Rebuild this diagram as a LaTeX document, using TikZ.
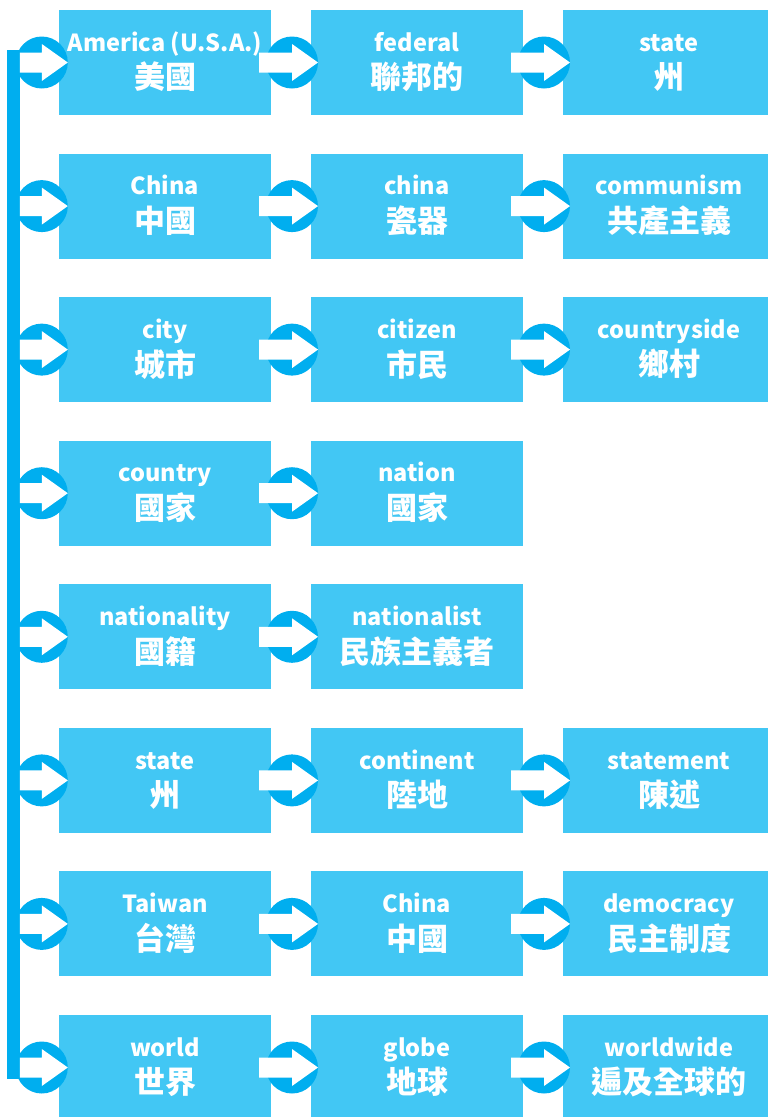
\documentclass[tikz,border=0pt]{standalone}
\usepackage{fontspec}
\setmainfont{Noto Sans CJK TC}
\usetikzlibrary{calc}
\definecolor{boxblue}{RGB}{66,199,244}
\definecolor{hopblue}{RGB}{0,174,239}
\newcommand{\lstrut}{\rule[-10pt]{0pt}{35pt}}
\newcommand{\en}{\fontsize{23.5}{30}\selectfont\lstrut}
\newcommand{\zh}{\fontsize{31}{30}\selectfont\lstrut}
\begin{document}
\begin{tikzpicture}[x=1pt,y=-1pt,
  word/.style={fill=boxblue, text=white, font=\bfseries, align=center, inner sep=0pt, minimum width=212pt, minimum height=105pt},
  pics/hop/.style={code={
    \fill[hopblue] (0,0) circle [radius=26pt];
    \fill[white] (-#1,-10) -- (0,-10) -- (0,-18.5) -- (26,0) -- (0,18.5) -- (0,10) -- (-#1,10) -- cycle;
  }}]
		    \useasboundingbox (0,0) rectangle (768,1117);
		    
		    % row 1
		    \node [word] (am) at (165,62.5) {\en America (U.S.A.)\\\zh 美國};
		    \node [word] (fed) at (417,62.5) {\en federal\\\zh 聯邦的};
		    \node [word] (st1) at (669,62.5) {\en state\\\zh 州};
		    % row 2
		    \node [word] (chn1) at (165,206.1) {\en China\\\zh 中國};
		    \node [word] (china) at (417,206.1) {\en china\\\zh 瓷器};
		    \node [word] (comm) at (669,206.1) {\en communism\\\zh 共產主義};
		    % row 3
		    \node [word] (city) at (165,349.6) {\en city\\\zh 城市};
		    \node [word] (citz) at (417,349.6) {\en citizen\\\zh 市民};
		    \node [word] (cside) at (669,349.6) {\en countryside\\\zh 鄉村};
		    % row 4
		    \node [word] (ctry) at (165,493.2) {\en country\\\zh 國家};
		    \node [word] (nat) at (417,493.2) {\en nation\\\zh 國家};
		    % row 5
		    \node [word] (ntly) at (165,636.8) {\en nationality\\\zh 國籍};
		    \node [word] (ntlst) at (417,636.8) {\en nationalist\\\zh 民族主義者};
		    % row 6
		    \node [word] (st2) at (165,780.4) {\en state\\\zh 州};
		    \node [word] (cont) at (417,780.4) {\en continent\\\zh 陸地};
		    \node [word] (stmt) at (669,780.4) {\en statement\\\zh 陳述};
		    % row 7
		    \node [word] (tw) at (165,923.9) {\en Taiwan\\\zh 台灣};
		    \node [word] (chn2) at (417,923.9) {\en China\\\zh 中國};
		    \node [word] (demo) at (669,923.9) {\en democracy\\\zh 民主制度};
		    % row 8
		    \node [word] (world) at (165,1067.5) {\en world\\\zh 世界};
		    \node [word] (globe) at (417,1067.5) {\en globe\\\zh 地球};
		    \node [word] (wwide) at (669,1067.5) {\en worldwide\\\zh 遍及全球的};
		    
		    % left bar
		    \coordinate (bartop) at (13.5,50);
		    \coordinate (barbot) at (13.5,1079);
			\draw [hopblue, line width=13pt] (bartop) -- (barbot);
			
			\pic at ([xshift=-17pt]am.west) {hop=22};
			\pic at ([xshift=-17pt]chn1.west) {hop=22};
			\pic at ([xshift=-17pt]city.west) {hop=22};
			\pic at ([xshift=-17pt]ctry.west) {hop=22};
			\pic at ([xshift=-17pt]ntly.west) {hop=22};
			\pic at ([xshift=-17pt]st2.west) {hop=22};
			\pic at ([xshift=-17pt]tw.west) {hop=22};
			\pic at ([xshift=-17pt]world.west) {hop=22};
			
			\pic at ($(am.east)!.5!(fed.west)+(1,0)$) {hop=33};
			\pic at ($(fed.east)!.5!(st1.west)+(1,0)$) {hop=33};
			\pic at ($(chn1.east)!.5!(china.west)+(1,0)$) {hop=33};
			\pic at ($(china.east)!.5!(comm.west)+(1,0)$) {hop=33};
			\pic at ($(city.east)!.5!(citz.west)+(1,0)$) {hop=33};
			\pic at ($(citz.east)!.5!(cside.west)+(1,0)$) {hop=33};
			\pic at ($(ctry.east)!.5!(nat.west)+(1,0)$) {hop=33};
			\pic at ($(ntly.east)!.5!(ntlst.west)+(1,0)$) {hop=33};
			\pic at ($(st2.east)!.5!(cont.west)+(1,0)$) {hop=33};
			\pic at ($(cont.east)!.5!(stmt.west)+(1,0)$) {hop=33};
			\pic at ($(tw.east)!.5!(chn2.west)+(1,0)$) {hop=33};
			\pic at ($(chn2.east)!.5!(demo.west)+(1,0)$) {hop=33};
			\pic at ($(world.east)!.5!(globe.west)+(1,0)$) {hop=33};
			\pic at ($(globe.east)!.5!(wwide.west)+(1,0)$) {hop=33};
		\end{tikzpicture}
\end{document}
